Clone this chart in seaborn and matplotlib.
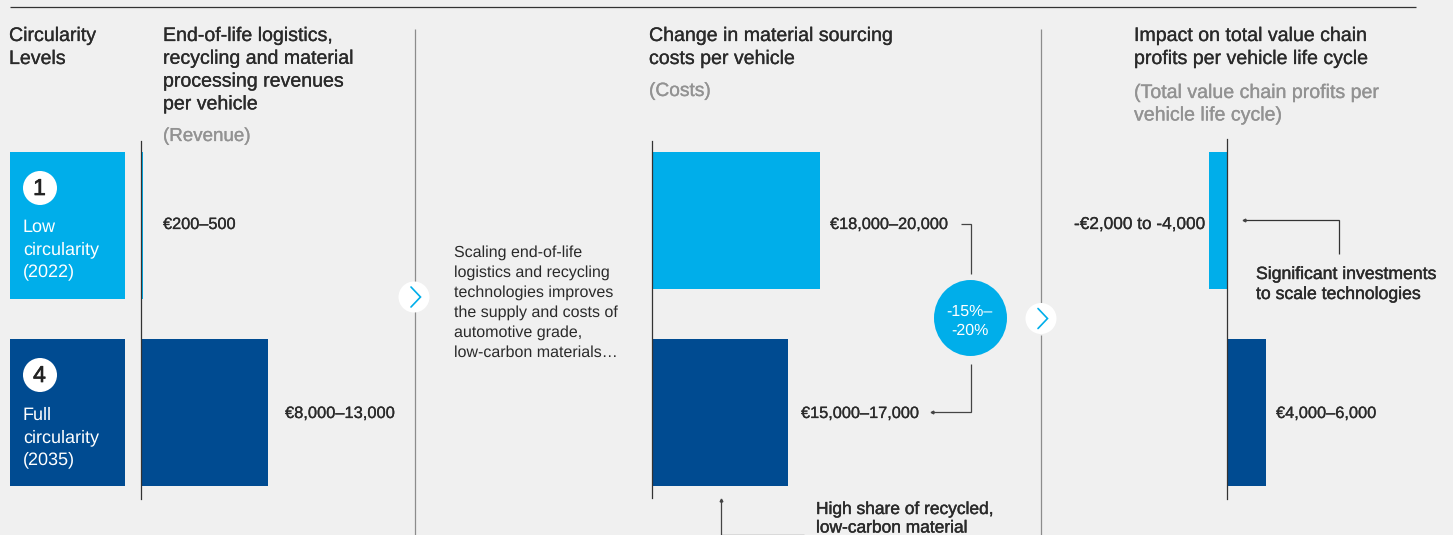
import matplotlib
matplotlib.use("Agg")
import matplotlib.pyplot as plt
import matplotlib.patheffects as pe
from matplotlib.patches import Ellipse, Rectangle
import pandas as pd
import seaborn as sns

W, H = 1453, 535

# Circularity levels and the per-vehicle figures (EUR, a value inside each range)
levels = ["Low circularity (2022)", "Full circularity (2035)"]
revenue = [220, 10500]
costs = [19000, 15400]
profits = [-2900, 6000]
revenue_labels = ["€200–500", "€8,000–13,000"]
cost_labels = ["€18,000–20,000", "€15,000–17,000"]
profit_labels = ["-€2,000 to -4,000", "€4,000–6,000"]

BG = "#f0f0f0"
LIGHT = "#00aeea"
DARK = "#004b91"
INK = "#2a2a2a"
GREY = "#929292"
RULE = "#8c8c8c"
palette = [LIGHT, DARK]

sns.set_theme(style="white", rc={"figure.facecolor": BG, "axes.facecolor": "none"})
plt.rcParams["font.family"] = ["Liberation Sans", "DejaVu Sans"]
plt.rcParams["text.hinting"] = "no_hinting"
plt.rcParams["text.hinting_factor"] = 1

fig = plt.figure(figsize=(W / 100, H / 100), dpi=100, facecolor=BG)

# Full-figure layer in pixel units for rules, callouts and text
bg = fig.add_axes([0, 0, 1, 1], zorder=0)
bg.set_xlim(0, W)
bg.set_ylim(H, 0)
bg.axis("off")


def panel(left, right, top, bottom, values, xlim):
    ax = fig.add_axes([left / W, 1 - bottom / H, (right - left) / W, (bottom - top) / H], zorder=1)
    frame = pd.DataFrame({"level": levels, "value": values})
    sns.barplot(data=frame, y="level", x="value", hue="level", palette=palette, orient="h",
                width=147 / 187, saturation=1, legend=False, ax=ax, linewidth=0)
    ax.set_xlim(*xlim)
    ax.set_ylim((bottom - 412.5) / 187 + 1, -(225.5 - top) / 187)
    ax.set(xlabel="", ylabel="", xticks=[], yticks=[])
    for side in ("top", "right", "bottom"):
        ax.spines[side].set_visible(False)
    ax.spines["left"].set_position(("data", 0))
    ax.spines["left"].set_color("#333333")
    ax.spines["left"].set_linewidth(0.9)
    ax.spines["left"].set_zorder(5)
    return ax


def shorten_first_bar(ax):
    ax.patches[0].set_height(137 / 187)


# Revenue: 127 px for 10,500
rev_scale = 127 / 10500
ax_rev = panel(140.7, 300, 141, 499, revenue, (0, 159.3 / rev_scale))

# Costs: 168 px for 19,000
cost_scale = 168 / 19000
ax_cost = panel(652, 830, 141, 498, costs, (0, 178 / cost_scale))
shorten_first_bar(ax_cost)

# Profits diverge around the axis: 38.5 px for 6,000
prof_scale = 38.5 / 6000
ax_prof = panel(1187.2, 1287.2, 139, 499, profits, (-40 / prof_scale, 60 / prof_scale))
shorten_first_bar(ax_prof)


def label(x, y, s, size=11.75, color=INK, stroke=0.2):
    t = bg.text(x, y, s, fontsize=size, color=color, ha="left", va="baseline", zorder=6)
    if stroke:
        t.set_path_effects([pe.withStroke(linewidth=stroke, foreground=color)])
    return t


def rule(xs, ys, color=RULE, lw=0.9):
    bg.plot(xs, ys, color=color, lw=lw, solid_capstyle="butt", solid_joinstyle="miter", zorder=1)


# Top rule and column separators
rule([10, 1416], [6.5, 6.5], color="#333333", lw=0.9)
rule([415.2, 415.2], [29, 285])
rule([415.2, 415.2], [311, 535])
rule([1041, 1041], [29, 305])
rule([1041, 1041], [335, 535])

# Level boxes on the left
for top, colour, num, lines, base in [
    (152, LIGHT, "1", ["Low", "circularity", "(2022)"], 232),
    (339, DARK, "4", ["Full", "circularity", "(2035)"], 420),
]:
    bg.add_patch(Rectangle((10, top), 115, 147, facecolor=colour, edgecolor="none", zorder=2))
    bg.add_patch(Ellipse((40, top + 36), 34, 34, facecolor="white", edgecolor="none", zorder=3))
    bg.text(39.5, top + 43, num, fontsize=16.5, color="#222222", ha="center", va="baseline", zorder=4,
            path_effects=[pe.withStroke(linewidth=0.5, foreground="#222222")])
    for i, line in enumerate(lines):
        bg.text(23, base + i * 22, line, fontsize=13.2, color="white", ha="left", va="baseline", zorder=4)

# Column headings
HEAD = 14.1
for i, s in enumerate(["Circularity", "Levels"]):
    label(9, 41 + i * 23, s, size=HEAD)
for i, s in enumerate(["End-of-life logistics,", "recycling and material", "processing revenues", "per vehicle"]):
    label(163, 41 + i * 22.8, s, size=HEAD)
label(163, 141, "(Revenue)", size=13.5, color=GREY)
for i, s in enumerate(["Change in material sourcing", "costs per vehicle"]):
    label(649, 41 + i * 23, s, size=HEAD)
label(649, 96, "(Costs)", size=13.8, color=GREY)
for i, s in enumerate(["Impact on total value chain", "profits per vehicle life cycle"]):
    label(1134, 41 + i * 23, s, size=HEAD)
for i, s in enumerate(["(Total value chain profits per", "vehicle life cycle)"]):
    label(1134, 98 + i * 22.5, s, size=HEAD, color=GREY)

# Value labels
label(163, 229, revenue_labels[0])
label(285, 418, revenue_labels[1], size=11.85)
label(830, 229, cost_labels[0])
label(801, 418, cost_labels[1])
label(1074, 229, profit_labels[0], size=12.4)
label(1276, 418, profit_labels[1], size=11.8)

# Middle commentary
commentary = ["Scaling end-of-life", "logistics and recycling", "technologies improves",
              "the supply and costs of", "automotive grade,", "low-carbon materials…"]
for i, s in enumerate(commentary):
    label(454, 257 + i * 20, s, size=11.7, stroke=0)

# Notes
for i, s in enumerate(["Significant investments", "to scale technologies"]):
    label(1256, 279 + i * 20, s, size=12.7, stroke=0.3)
for i, s in enumerate(["High share of recycled,", "low-carbon material"]):
    label(816, 514 + i * 18.5, s, size=12.5, stroke=0.3)

# Reduction bubble and its brackets
CONN = "#444444"
rule([961, 970.5, 970.5], [224, 224, 274], color=CONN)
rule([970.5, 970.5, 932], [364, 412, 412], color=CONN)
bg.plot([932], [412], marker="<", ms=2, color=CONN, zorder=1)
bg.add_patch(Ellipse((970.5, 318), 73, 76, facecolor=LIGHT, edgecolor="none", zorder=2))
bg.text(969, 316, "-15%–", fontsize=11.6, color="white", ha="center", va="baseline", zorder=4)
bg.text(970, 335, "-20%", fontsize=11.6, color="white", ha="center", va="baseline", zorder=4)

# Callouts for the profit and cost notes
rule([1244, 1339, 1339], [220, 220, 254], color="#333333")
bg.plot([1244], [220], marker="<", ms=2, color=CONN, zorder=1)
rule([721, 721, 804], [500, 534.5, 534.5], color=CONN)
bg.plot([721], [500], marker="^", ms=2, color=CONN, zorder=1)

# Chevron buttons between columns
for cx, cy in [(414, 297), (1041, 318.5)]:
    bg.add_patch(Ellipse((cx, cy), 31, 31, facecolor="white", edgecolor="none", zorder=2))
    bg.plot([cx - 3, cx + 6.5, cx - 3], [cy - 10, cy, cy + 10], color=LIGHT, lw=1.2,
            solid_joinstyle="miter", zorder=3)

fig.savefig("out.png", dpi=100, facecolor=BG)
